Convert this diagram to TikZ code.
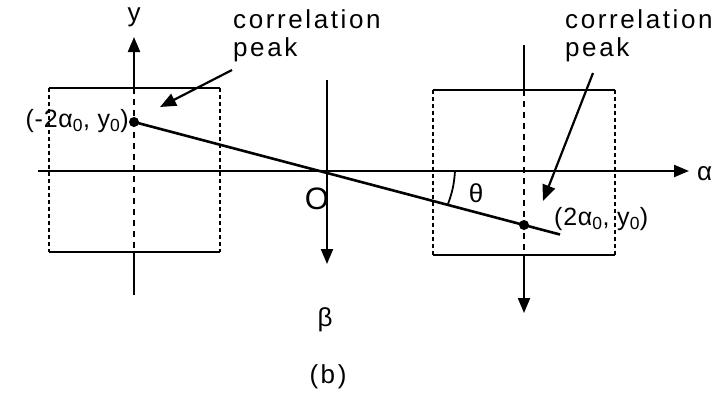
\documentclass[tikz,border=0pt]{standalone}
\usepackage{fontspec}
\setmainfont{Liberation Sans}
\usetikzlibrary{arrows.meta}

\begin{document}
\begin{tikzpicture}[
  x=1pt,y=-1pt,
  >={Triangle[length=15pt,width=12pt]},
  lbl/.style={inner sep=0pt,
    font=\fontsize{26}{28}\selectfont\addfontfeatures{LetterSpace=10}},
  coord/.style={inner sep=0pt,
    font=\fontsize{25}{28}\selectfont\addfontfeatures{LetterSpace=3}},
  axis/.style={line width=2.2pt},
  boxedge/.style={line width=1.7pt},
  boxside/.style={line width=1.1pt,dash pattern=on 4pt off 3pt},
  inside/.style={line width=2pt,dash pattern=on 6pt off 5pt},
  pointer/.style={-{Triangle[length=16pt,width=13pt]},line width=2.2pt},
  peakdot/.style={circle,fill,inner sep=0pt,minimum size=10pt}
]
  \useasboundingbox (0,0) rectangle (715,394);

  % alpha and beta axes
  \coordinate (O) at (327,171);
  \coordinate (ax0) at (38,171);
  \coordinate (ax1) at (689,171);
  \coordinate (bx0) at (327,80);
  \coordinate (bx1) at (327,264);
  \draw[axis,->] (ax0) -- (ax1);
  \draw[axis,->] (bx0) -- (bx1);

  % the two boxes
  \foreach \n/\xa/\xb/\ya/\yb in {lbox/49/220/88/252,rbox/433/615/90/255} {
    \coordinate (\n-nw) at (\xa,\ya);
    \coordinate (\n-ne) at (\xb,\ya);
    \coordinate (\n-sw) at (\xa,\yb);
    \coordinate (\n-se) at (\xb,\yb);
    \draw[boxedge] (\n-nw) -- (\n-ne);
    \draw[boxedge] (\n-sw) -- (\n-se);
    \draw[boxside] (\n-nw) -- (\n-sw);
    \draw[boxside] (\n-ne) -- (\n-se);
  }

  % y axis, left box
  \coordinate (ly0) at (134,37);
  \coordinate (ly1) at (134,88);
  \coordinate (ly2) at (134,252);
  \coordinate (ly3) at (134,295);
  \draw[axis,<-] (ly0) -- (ly1);
  \draw[inside] (ly1) -- (ly2);
  \draw[axis] (ly2) -- (ly3);

  % axis, right box
  \coordinate (ry0) at (524,45);
  \coordinate (ry1) at (524,90);
  \coordinate (ry2) at (524,255);
  \coordinate (ry3) at (524,313);
  \draw[axis] (ry0) -- (ry1);
  \draw[inside] (ry1) -- (ry2);
  \draw[axis,->] (ry2) -- (ry3);

  % line through the peaks
  \node[peakdot] (p1) at (134,122) {};
  \node[peakdot] (p2) at (524,225) {};
  \coordinate (pend) at (560,234.5);
  \draw[line width=2.6pt] (p1.center) -- (pend);

  % angle theta
  \coordinate (th0) at (455,171);
  \coordinate (th1) at (448,204);
  \draw[line width=1.8pt] (th0) to[bend left=8] (th1);

  % labels
  \node[lbl] (ylab) at (134,17) {y};
  \node[lbl,anchor=west] (alab) at (697,174) {α};
  \node[lbl,font=\fontsize{31}{31}\selectfont] (olab) at (317,199) {O};
  \node[lbl] (blab) at (325,320) {β};
  \node[lbl] (thlab) at (476,193) {θ};
  \node[lbl] (caption) at (328,377) {(b)};
  \node[coord,anchor=east] (p1lab) at (129,121)
    {(-2α\textsubscript{0}, y\textsubscript{0})};
  \node[coord,anchor=west] (p2lab) at (554,219)
    {(2α\textsubscript{0}, y\textsubscript{0})};
  \node[lbl,anchor=north west,align=left] (lpeak) at (233,9)
    {correlation\\peak};
  \node[lbl,anchor=north west,align=left] (rpeak) at (565,9)
    {correlation\\peak};

  % pointers to the peaks
  \coordinate (la0) at (232,70);
  \coordinate (la1) at (160,107);
  \coordinate (ra0) at (593,73);
  \coordinate (ra1) at (543,201);
  \draw[pointer] (la0) -- (la1);
  \draw[pointer] (ra0) -- (ra1);
\end{tikzpicture}
\end{document}
